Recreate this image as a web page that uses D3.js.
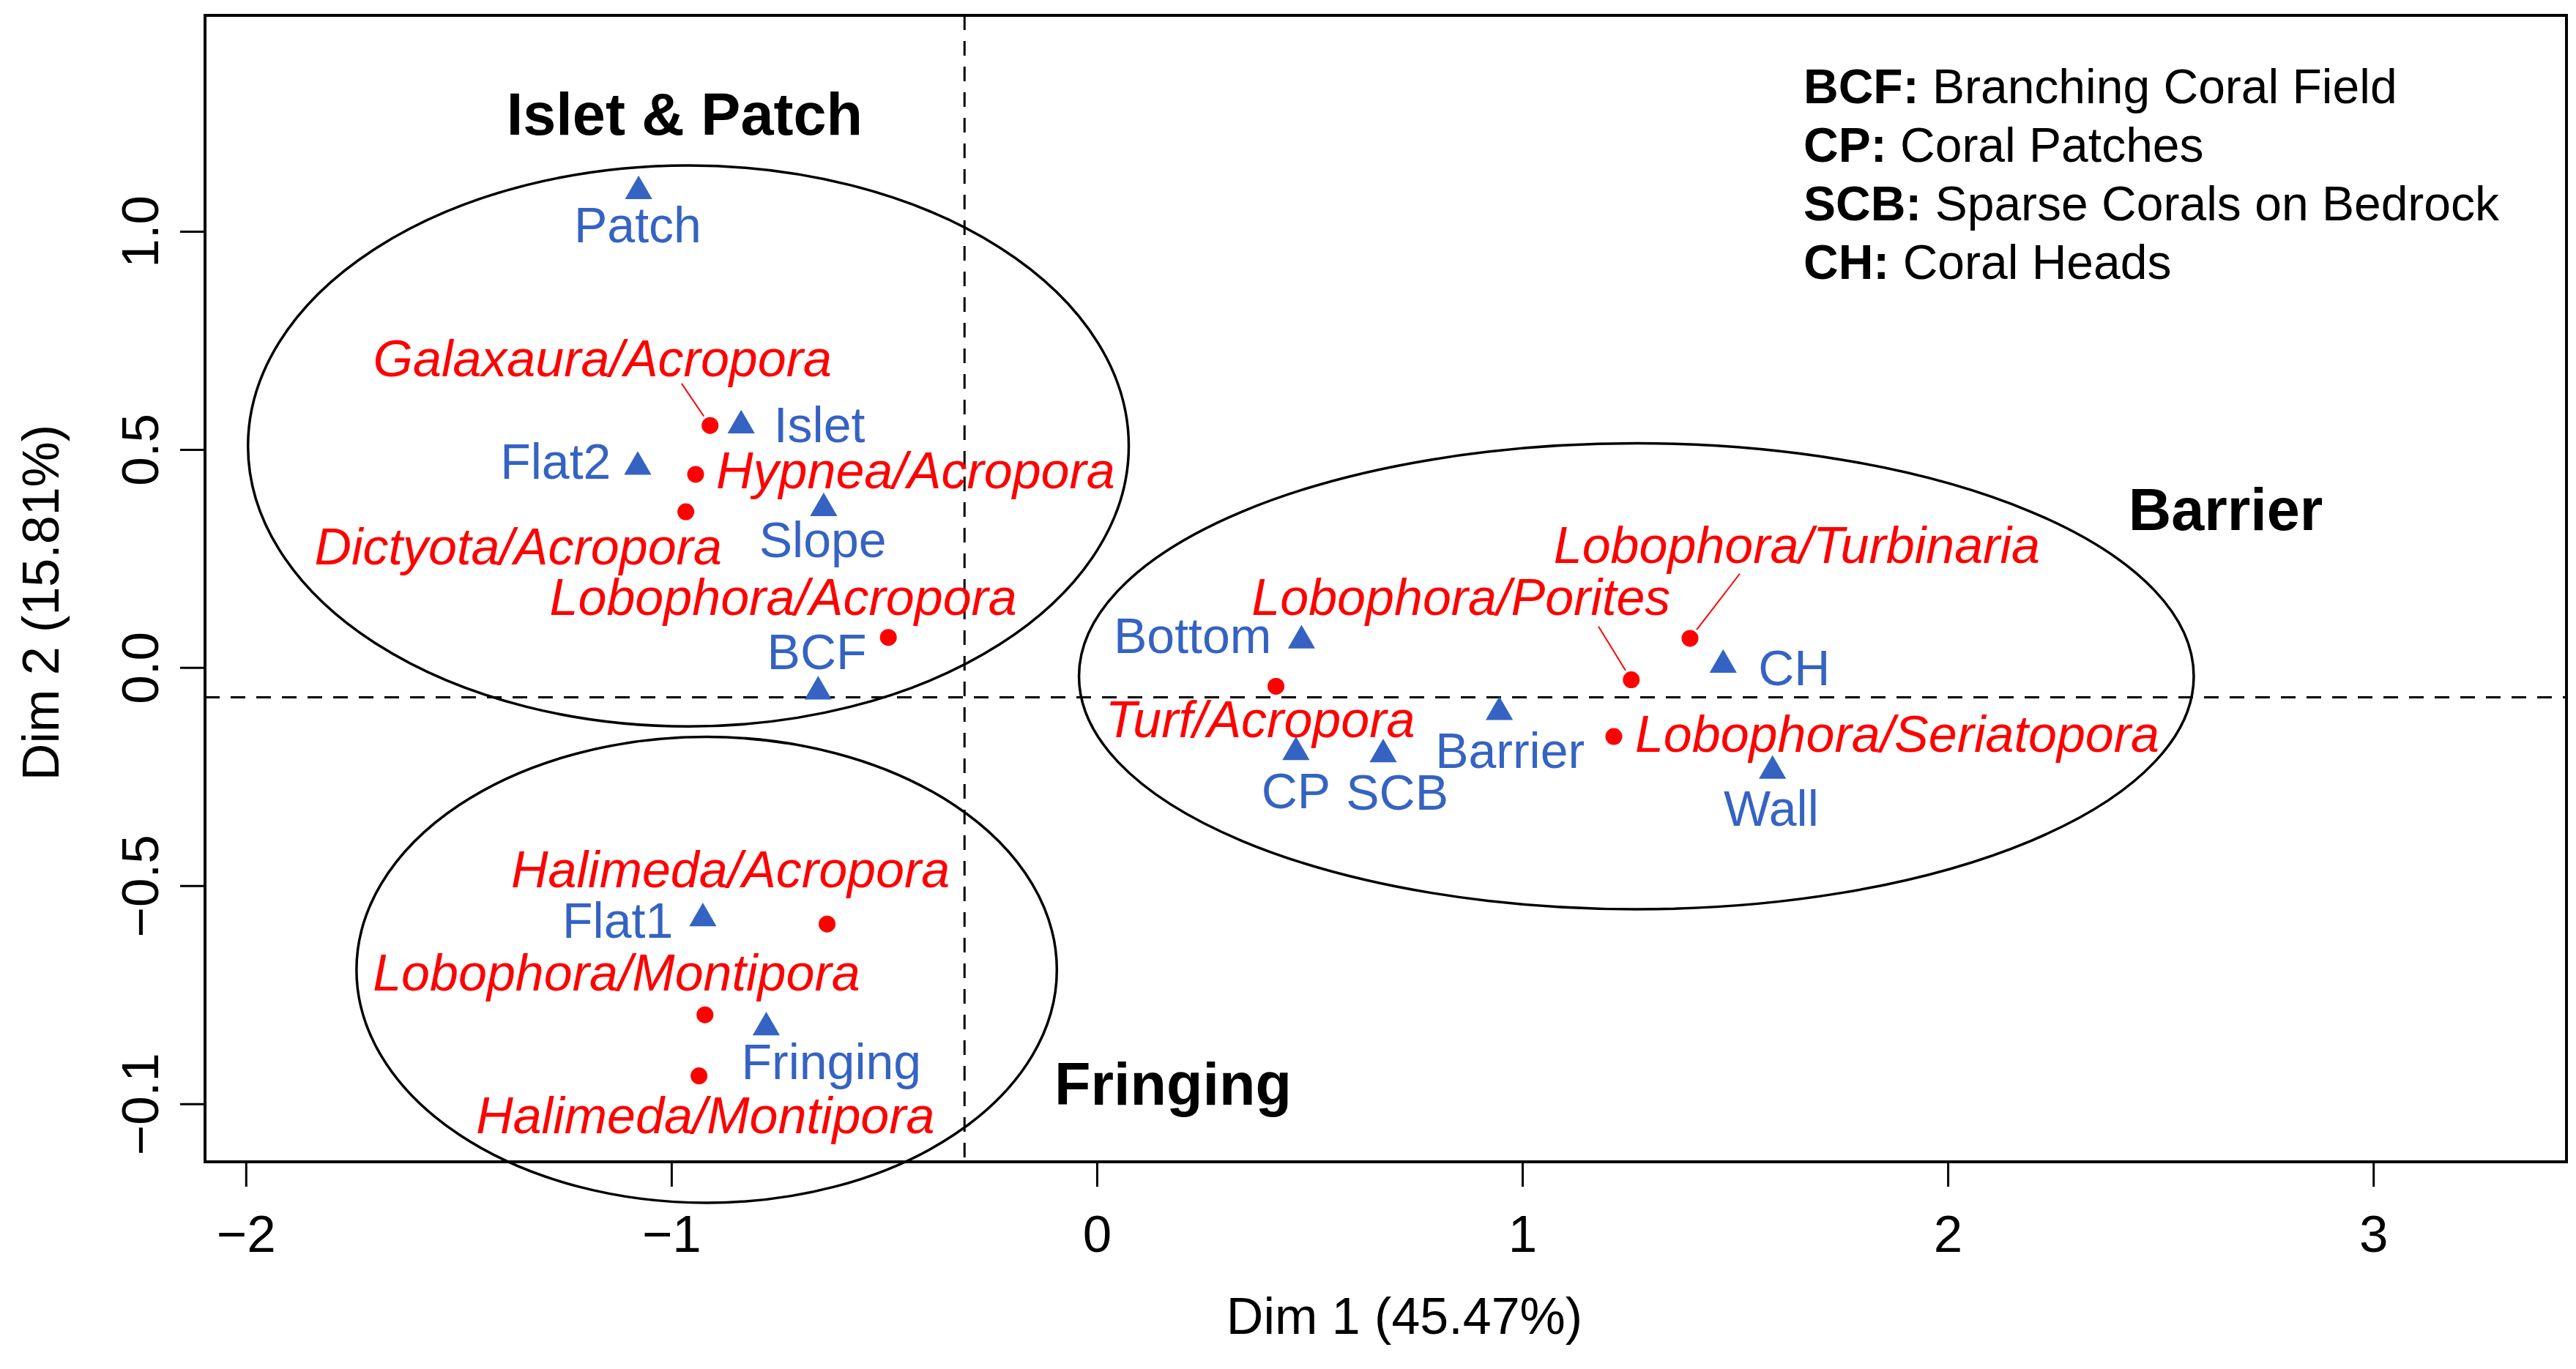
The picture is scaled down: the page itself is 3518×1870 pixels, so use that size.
<!DOCTYPE html>
<html>
<head>
<meta charset="utf-8">
<script src="https://cdn.jsdelivr.net/npm/d3@7/dist/d3.min.js"></script>
<style>
  html, body { margin: 0; padding: 0; background: #ffffff; }
  svg { display: block; }
  text { font-family: "Liberation Sans", Arial, Helvetica, sans-serif; }
</style>
</head>
<body>
<script>
// ---------------- DATA ----------------
const siteNames = ["Patch", "Islet", "Flat2", "Slope", "BCF", "Bottom", "CH", "Barrier", "CP", "SCB", "Wall", "Flat1", "Fringing"];
const siteDim1  = [-1.077, -0.836, -1.079, -0.642, -0.655, 0.481, 1.472, 0.946, 0.468, 0.673, 1.588, -0.926, -0.777];
const siteDim2  = [ 1.092,  0.555,  0.460,  0.365, -0.055, 0.062, 0.006, -0.102, -0.194, -0.199, -0.237, -0.575, -0.825];
// label anchor (centre, baseline) in data units
const siteLabelDim1 = [-1.079, -0.652, -1.272, -0.644, -0.658, 0.225, 1.639, 0.971, 0.468, 0.706, 1.585, -1.126, -0.624];
const siteLabelDim2 = [ 0.975,  0.516,  0.432,  0.253, -0.003, 0.034, -0.040, -0.230, -0.322, -0.325, -0.362, -0.619, -0.943];

const speciesNames = ["Galaxaura/Acropora", "Hypnea/Acropora", "Dictyota/Acropora", "Lobophora/Acropora",
  "Turf/Acropora", "Lobophora/Porites", "Lobophora/Turbinaria", "Lobophora/Seriatopora",
  "Halimeda/Acropora", "Lobophora/Montipora", "Halimeda/Montipora"];
const speciesDim1 = [-0.909, -0.943, -0.966, -0.490, 0.421, 1.256, 1.394, 1.215, -0.634, -0.921, -0.935];
const speciesDim2 = [ 0.555,  0.443,  0.357,  0.069, -0.043, -0.028, 0.067, -0.158, -0.588, -0.796, -0.936];
const speciesLabelDim1 = [-1.162, -0.426, -1.360, -0.737, 0.384, 0.856, 1.645, 1.881, -0.861, -1.129, -0.920];
const speciesLabelDim2 = [ 0.668,  0.411,  0.236,  0.121, -0.160, 0.121, 0.239, -0.194, -0.503, -0.740, -1.067];
// leader line start (data units), null when none
const speciesLeaderDim1 = [-0.976, null, null, null, null, 1.179, 1.511, null, null, null, null];
const speciesLeaderDim2 = [ 0.651, null, null, null, null, 0.094, 0.215, null, null, null, null];

const groupNames = ["Islet & Patch", "Barrier", "Fringing"];
const groupLabelDim1 = [-0.969, 2.653, 0.179];
const groupLabelDim2 = [ 1.221, 0.315, -1.002];
const groupEllipseCx = [-0.960, 1.268, -0.917];
const groupEllipseCy = [ 0.508, -0.020, -0.693];
const groupEllipseRx = [ 1.035, 1.310, 0.823];
const groupEllipseRy = [ 0.643, 0.534, 0.534];

const xTickValues = [-2, -1, 0, 1, 2, 3];
const xTickLabels = ["\u22122", "\u22121", "0", "1", "2", "3"];
const yTickValues = [1, 0.5, 0, -0.5, -1];
const yTickLabels = ["1.0", "0.5", "0.0", "\u22120.5", "\u22120.1"];

const refDim1 = -0.311;   // vertical dashed reference line
const refDim2 = -0.068;   // horizontal dashed reference line

const xTitle = "Dim 1 (45.47%)";
const yTitle = "Dim 2 (15.81%)";

const legendKeys  = ["BCF:", "CP:", "SCB:", "CH:"];
const legendTexts = ["Branching Coral Field", "Coral Patches", "Sparse Corals on Bedrock", "Coral Heads"];

// ---------------- LAYOUT ----------------
const W = 3518, H = 1870;
const plotL = 280, plotR = 3505, plotT = 21, plotB = 1587;
const BLUE = "#3563C3", RED = "#FF0000";

const svg = d3.select("body").append("svg").attr("width", W).attr("height", H);
svg.append("rect").attr("width", W).attr("height", H).attr("fill", "#fff");

const x = d3.scaleLinear().domain([-2.096, 3.454]).range([plotL, plotR]);
const y = d3.scaleLinear().domain([-1.133, 1.495]).range([plotB, plotT]);

// axes
const xAxis = svg.append("g").attr("transform", `translate(0,${plotB})`)
  .call(d3.axisBottom(x).tickValues(xTickValues).tickSize(34).tickFormat((d, i) => xTickLabels[i]));
xAxis.select(".domain").remove();
xAxis.selectAll(".tick line").attr("stroke", "#000").attr("stroke-width", 3);
xAxis.selectAll(".tick text").attr("y", 123).attr("dy", null)
  .attr("font-size", 71).attr("fill", "#000")
  .style("font-family", "'Liberation Sans', Arial, sans-serif");

const yAxis = svg.append("g").attr("transform", `translate(${plotL},0)`)
  .call(d3.axisLeft(y).tickValues(yTickValues).tickSize(34).tickFormat((d, i) => yTickLabels[i]));
yAxis.select(".domain").remove();
yAxis.selectAll(".tick line").attr("stroke", "#000").attr("stroke-width", 3);
yAxis.selectAll(".tick text")
  .attr("x", null).attr("dy", null)
  .attr("transform", "translate(-64,0) rotate(-90)")
  .attr("text-anchor", "middle")
  .attr("font-size", 71).attr("fill", "#000")
  .style("font-family", "'Liberation Sans', Arial, sans-serif");

// axis titles
svg.append("text").attr("x", 1918).attr("y", 1822).attr("text-anchor", "middle")
  .attr("font-size", 70).attr("fill", "#000").text(xTitle);
svg.append("text").attr("transform", "translate(80,823) rotate(-90)").attr("text-anchor", "middle")
  .attr("font-size", 70).attr("fill", "#000").text(yTitle);

// reference dashed lines
svg.append("line").attr("x1", plotL).attr("x2", plotR).attr("y1", y(refDim2)).attr("y2", y(refDim2))
  .attr("stroke", "#000").attr("stroke-width", 3).attr("stroke-dasharray", "20,15");
svg.append("line").attr("x1", x(refDim1)).attr("x2", x(refDim1)).attr("y1", plotT).attr("y2", plotB)
  .attr("stroke", "#000").attr("stroke-width", 3).attr("stroke-dasharray", "20,15");

// plot frame
svg.append("rect").attr("x", plotL).attr("y", plotT).attr("width", plotR - plotL).attr("height", plotB - plotT)
  .attr("fill", "none").attr("stroke", "#000").attr("stroke-width", 4);

// ellipses
svg.append("g").selectAll("ellipse").data(groupNames).join("ellipse")
  .attr("cx", (d, i) => x(groupEllipseCx[i]))
  .attr("cy", (d, i) => y(groupEllipseCy[i]))
  .attr("rx", (d, i) => x(groupEllipseRx[i]) - x(0))
  .attr("ry", (d, i) => y(0) - y(groupEllipseRy[i]))
  .attr("fill", "none").attr("stroke", "#000").attr("stroke-width", 3.5);

// group labels
svg.append("g").selectAll("text").data(groupNames).join("text")
  .attr("x", (d, i) => x(groupLabelDim1[i]))
  .attr("y", (d, i) => y(groupLabelDim2[i]))
  .attr("text-anchor", "middle").attr("font-size", 81).attr("font-weight", "bold").attr("fill", "#000")
  .text(d => d);

// legend
const leg = svg.append("g");
legendKeys.forEach((k, i) => {
  const t = leg.append("text").attr("x", 2463).attr("y", 141 + i * 80).attr("font-size", 66).attr("fill", "#000");
  t.append("tspan").attr("font-weight", "bold").text(k);
  t.append("tspan").text(" " + legendTexts[i]);
});

// leader lines
const leaders = speciesNames.map((n, i) => ({i, n})).filter(d => speciesLeaderDim1[d.i] !== null);
svg.append("g").selectAll("line").data(leaders).join("line")
  .each(function(d) {
    const x1 = x(speciesLeaderDim1[d.i]), y1 = y(speciesLeaderDim2[d.i]);
    const px = x(speciesDim1[d.i]), py = y(speciesDim2[d.i]);
    const dx = px - x1, dy = py - y1, len = Math.hypot(dx, dy);
    const k = (len - 15) / len;
    d3.select(this).attr("x1", x1).attr("y1", y1).attr("x2", x1 + dx * k).attr("y2", y1 + dy * k);
  })
  .attr("stroke", RED).attr("stroke-width", 2);

// species points
svg.append("g").selectAll("circle").data(speciesNames).join("circle")
  .attr("cx", (d, i) => x(speciesDim1[i]))
  .attr("cy", (d, i) => y(speciesDim2[i]))
  .attr("r", 11.5).attr("fill", RED);

// site triangles
const tri = d3.symbol().type(d3.symbolTriangle).size(600);
svg.append("g").selectAll("path").data(siteNames).join("path")
  .attr("d", tri)
  .attr("transform", (d, i) => `translate(${x(siteDim1[i])},${y(siteDim2[i])})`)
  .attr("fill", BLUE);

// species labels
svg.append("g").selectAll("text").data(speciesNames).join("text")
  .attr("x", (d, i) => x(speciesLabelDim1[i]))
  .attr("y", (d, i) => y(speciesLabelDim2[i]))
  .attr("text-anchor", "middle").attr("font-size", 70).attr("font-style", "italic").attr("fill", RED)
  .text(d => d);

// site labels
svg.append("g").selectAll("text").data(siteNames).join("text")
  .attr("x", (d, i) => x(siteLabelDim1[i]))
  .attr("y", (d, i) => y(siteLabelDim2[i]))
  .attr("text-anchor", "middle").attr("font-size", 68).attr("fill", BLUE)
  .text(d => d);
</script>
</body>
</html>
